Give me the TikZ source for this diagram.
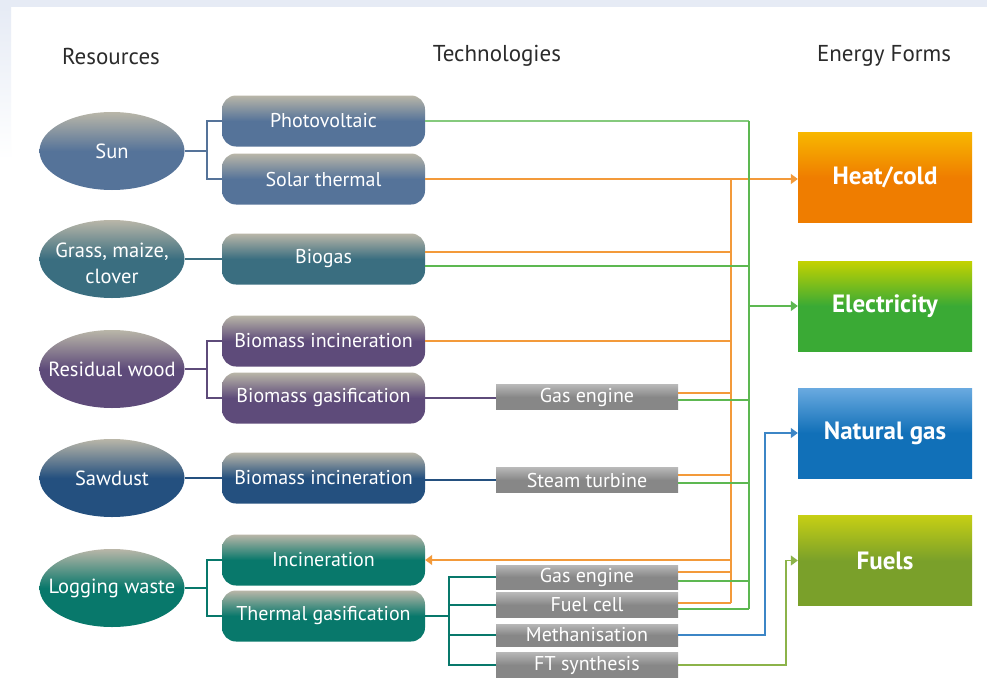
\documentclass[tikz,border=0pt]{standalone}
\usepackage{fontspec}
\setmainfont{PT Sans}
\usetikzlibrary{arrows.meta,shapes.geometric}
\definecolor{corng}{HTML}{F39A3A}
\definecolor{cgrn}{HTML}{5DB851}
\definecolor{cblu}{HTML}{3C86C6}
\definecolor{colv}{HTML}{8CB34A}
\definecolor{ctop}{HTML}{B9B6A8}
\definecolor{csun}{HTML}{557399}
\definecolor{cgrass}{HTML}{3A6E80}
\definecolor{cwood}{HTML}{5E4B7A}
\definecolor{csaw}{HTML}{24507F}
\definecolor{clog}{HTML}{08786B}
\definecolor{bgband}{HTML}{E6EBF5}
\definecolor{hdrc}{HTML}{2B2B2B}
\definecolor{heatT}{HTML}{F8B700}
\definecolor{heatB}{HTML}{EF7D00}
\definecolor{elecT}{HTML}{C4D200}
\definecolor{elecB}{HTML}{3AAA35}
\definecolor{ngT}{HTML}{6AAAE0}
\definecolor{ngB}{HTML}{1170B8}
\definecolor{fuelT}{HTML}{C6CF14}
\definecolor{fuelB}{HTML}{7AA02A}
\begin{document}
\begin{tikzpicture}[x=1pt,y=-1pt,
  hdr/.style={text=hdrc,font=\fontsize{23}{25}\selectfont,inner sep=0pt},
  res/.style={ellipse,minimum width=145pt,minimum height=78pt,inner sep=0pt,
    top color=ctop,bottom color=#1,middle color=#1},
  rlab/.style={text=white,font=\fontsize{20.5}{26}\selectfont,align=center,inner sep=0pt},
  tech/.style={rectangle,rounded corners=14pt,minimum width=203pt,minimum height=51pt,
    inner sep=0pt,text=white,font=\fontsize{20}{22}\selectfont,
    top color=ctop,bottom color=#1,middle color=#1},
  gbox/.style={rectangle,minimum width=182pt,minimum height=#1,inner sep=0pt,
    text=white,font=\fontsize{20}{20}\selectfont,
    top color=black!28,bottom color=black!47,middle color=black!47},
  ebox/.style n args={2}{rectangle,minimum width=174pt,minimum height=90pt,inner sep=0pt,
    text=white,font=\fontsize{25}{27}\selectfont\bfseries,
    top color=#1,bottom color=#2,middle color=#2},
  ln/.style={line width=1.4pt},
  tip/.style={-{Triangle[length=7pt,width=10pt]}},
  rtip/.style={{Triangle[length=7pt,width=10pt]}-}
]
\useasboundingbox (0,0) rectangle (987,677);
\fill[white] (0,0) rectangle (987,677);
\fill[bgband] (0,0) rectangle (987,7);
\shade[top color=bgband,bottom color=white] (0,7) rectangle (11,160);

% headers
\node[hdr] (h1) at (111,56) {Resources};
\node[hdr] (h2) at (497,56) {Technologies};
\node[hdr] (h3) at (884,56) {Energy Forms};

% resources
\node[res=csun,label={[rlab]center:Sun}] (sun) at (112,151) {};
\node[res=cgrass,label={[rlab,yshift=-4pt]center:Grass, maize,\\clover}] (grass) at (112,259) {};
\node[res=cwood,label={[rlab]center:Residual wood}] (wood) at (112,369) {};
\node[res=csaw,label={[rlab]center:Sawdust}] (saw) at (112,478) {};
\node[res=clog,label={[rlab]center:Logging waste}] (log) at (112,588) {};

% technologies
\node[tech=csun] (pv) at (323.5,121) {Photovoltaic};
\node[tech=csun] (st) at (323.5,179) {Solar thermal};
\node[tech=cgrass] (bg) at (323.5,259) {Biogas};
\node[tech=cwood] (bi) at (323.5,341) {Biomass incineration};
\node[tech=cwood] (bgf) at (323.5,398) {Biomass gasification};
\node[tech=csaw] (sbi) at (323.5,478) {Biomass incineration};
\node[tech=clog] (inc) at (323.5,560) {Incineration};
\node[tech=clog] (tg) at (323.5,616) {Thermal gasification};

% conversion boxes
\node[gbox=25pt] (ge1) at (587,397) {Gas engine};
\node[gbox=25pt] (stb) at (587,480) {Steam turbine};
\node[gbox=24pt] (ge2) at (587,577) {Gas engine};
\node[gbox=25pt] (fc) at (587,605) {Fuel cell};
\node[gbox=22pt] (meth) at (587,635) {Methanisation};
\node[gbox=26pt] (ft) at (587,665) {FT synthesis};

% energy forms
\node[ebox={heatT}{heatB}] (heat) at (885,177.5) {Heat/cold};
\node[ebox={elecT}{elecB}] (elec) at (885,306) {Electricity};
\node[ebox={ngT}{ngB}] (ng) at (885,433) {Natural gas};
\node[ebox={fuelT}{fuelB}] (fuel) at (885,560.5) {Fuels};

% bus coordinates
\coordinate (rb) at (207,0);
\coordinate (ob) at (731,0);
\coordinate (gb) at (749,0);
\coordinate (tb) at (449,0);
\coordinate (nx) at (765,0);
\coordinate (fx) at (786,0);

% resource -> technology
\draw[ln,draw=csun] (sun.east) -- (sun.east -| rb);
\path (pv.west -| rb) coordinate (rs1) (st.west -| rb) coordinate (rs2);
\draw[ln,draw=csun] (pv.west) -- (rs1) -- (rs2) -- (st.west);
\draw[ln,draw=cgrass] (grass.east) -- (bg.west);
\draw[ln,draw=cwood] (wood.east) -- (wood.east -| rb);
\path (bi.west -| rb) coordinate (rw1) (bgf.west -| rb) coordinate (rw2);
\draw[ln,draw=cwood] (bi.west) -- (rw1) -- (rw2) -- (bgf.west);
\draw[ln,draw=csaw] (saw.east) -- (sbi.west);
\draw[ln,draw=clog] (log.east) -- (log.east -| rb);
\path (inc.west -| rb) coordinate (rl1) (tg.west -| rb) coordinate (rl2);
\draw[ln,draw=clog] (inc.west) -- (rl1) -- (rl2) -- (tg.west);

% technology -> conversion
\draw[ln,draw=cwood] (bgf.east) -- (bgf.east -| ge1.west);
\draw[ln,draw=csaw] (stb.west -| sbi.east) -- (stb.west);
\draw[ln,draw=clog] (tg.east) -- (tg.east -| tb);
\draw[ln,draw=clog] (ge2.west) -- (ge2.west -| tb) -- (ft.west -| tb) -- (ft.west);
\draw[ln,draw=clog] (fc.west -| tb) -- (fc.west);
\draw[ln,draw=clog] (meth.west -| tb) -- (meth.west);

% line start coordinates
\path ([yshift=7pt]bg.east) coordinate (bgo) ([yshift=-7pt]bg.east) coordinate (bgg)
      ([yshift=4pt]ge1.east) coordinate (g1o) ([yshift=-3pt]ge1.east) coordinate (g1g)
      ([yshift=5pt]stb.east) coordinate (sto) ([yshift=-3pt]stb.east) coordinate (stg)
      ([yshift=5pt]ge2.east) coordinate (g2o) ([yshift=-4pt]ge2.east) coordinate (g2g)
      ([yshift=2pt]fc.east) coordinate (fco) ([yshift=-4pt]fc.east) coordinate (fcg);

% orange (heat)
\draw[ln,draw=corng] (st.east) -- (st.east -| ob);
\draw[ln,draw=corng] (bgo) -- (bgo -| ob);
\draw[ln,draw=corng] (bi.east) -- (bi.east -| ob);
\draw[ln,draw=corng] (g1o) -- (g1o -| ob);
\draw[ln,draw=corng] (sto) -- (sto -| ob);
\draw[ln,draw=corng] (g2o) -- (g2o -| ob);
\draw[ln,draw=corng] (fco) -- (fco -| ob);
\draw[ln,draw=corng] (st.east -| ob) -- (fco -| ob);
\draw[ln,draw=corng,tip] (st.east -| ob) -- (st.east -| heat.west);
\draw[ln,draw=corng,rtip] (inc.east) -- (inc.east -| ob);

% green (electricity)
\draw[ln,draw=cgrn!75] (pv.east) -- (pv.east -| gb);
\draw[ln,draw=cgrn] (bgg) -- (bgg -| gb);
\draw[ln,draw=cgrn] (g1g) -- (g1g -| gb);
\draw[ln,draw=cgrn] (stg) -- (stg -| gb);
\draw[ln,draw=cgrn] (g2g) -- (g2g -| gb);
\draw[ln,draw=cgrn] (fcg) -- (fcg -| gb);
\draw[ln,draw=cgrn] (pv.east -| gb) -- (fcg -| gb);
\draw[ln,draw=cgrn,tip] (elec.west -| gb) -- (elec.west);

% natural gas and fuels
\draw[ln,draw=cblu,tip] (meth.east) -- (meth.east -| nx) |- (ng.west);
\draw[ln,draw=colv,tip] (ft.east) -- (ft.east -| fx) |- (fuel.west);
\end{tikzpicture}
\end{document}
